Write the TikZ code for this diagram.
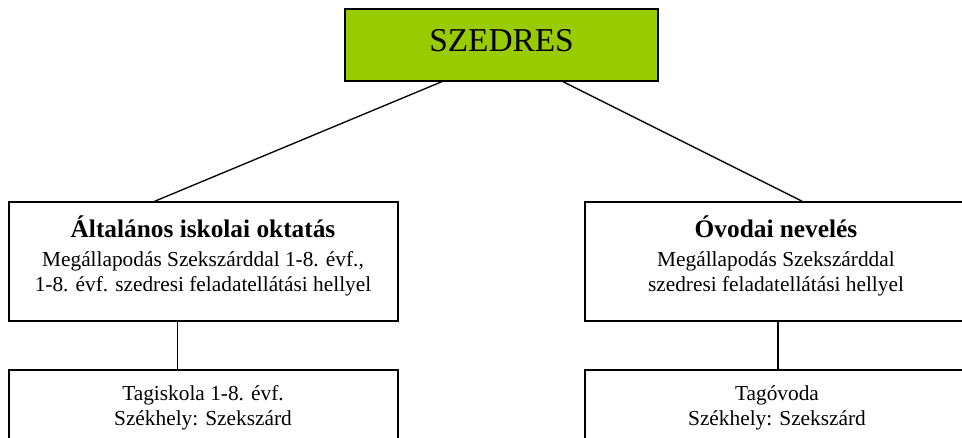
\documentclass[tikz,border=0pt]{standalone}
\usepackage{fontspec}
\setmainfont{Liberation Serif}
\usetikzlibrary{calc}
\definecolor{szedresgreen}{RGB}{153,204,0}
\tikzset{
  box/.style={draw=black, line width=1.1pt, inner sep=0pt},
  conn/.style={draw=black, line width=1pt},
  cim/.style={font=\fontsize{19}{22}\selectfont\bfseries, inner sep=0pt},
  szoveg/.style={font=\fontsize{16}{18.75}\selectfont, align=center, inner sep=0pt}
}
\begin{document}
\begin{tikzpicture}[x=0.75pt,y=0.75pt,yscale=-1,xscale=1]
\useasboundingbox (0,0) rectangle (962,438);
\clip (0,0) rectangle (962,438);

%Shape: Rectangle [szedres]
\node [box, fill=szedresgreen, minimum width=234.75pt, minimum height=54pt, text depth=7.5pt, font=\fontsize{25}{30}\selectfont] (szedres) at (501.5,45) {SZEDRES};
%Shape: Rectangle [iskola]
\node [box, minimum width=291.75pt, minimum height=89.25pt] (iskola) at (203.5,261.5) {};
%Shape: Rectangle [ovoda]
\node [box, minimum width=286.5pt, minimum height=89.25pt] (ovoda) at (776,261.5) {};
%Shape: Rectangle [tagiskola]
\node [box, minimum width=291.75pt, minimum height=75pt] (tagiskola) at (203.5,420) {};
%Shape: Rectangle [tagovoda]
\node [box, minimum width=286.5pt, minimum height=75pt] (tagovoda) at (776,420) {};

%Straight Lines
\draw [conn] ($(szedres.south west)!0.31!(szedres.south east)$) -- ($(iskola.north west)!0.375!(iskola.north east)$) ;
\draw [conn] ($(szedres.south west)!0.696!(szedres.south east)$) -- ($(ovoda.north west)!0.568!(ovoda.north east)$) ;
\draw [conn] ($(iskola.south west)!0.434!(iskola.south east)$) -- ($(tagiskola.north west)!0.434!(tagiskola.north east)$) ;
\draw [conn] ($(ovoda.south west)!0.505!(ovoda.south east)$) -- ($(tagovoda.north west)!0.505!(tagovoda.north east)$) ;

% Text Node
\node [cim, anchor=base] (iskolacim) at (203,238) {Általános iskolai oktatás};
% Text Node
\node [szoveg, anchor=base] (iskolaszoveg) at (203,291) {Megállapodás Szekszárddal 1-8. évf.,\\1-8. évf. szedresi feladatellátási hellyel};
% Text Node
\node [cim, anchor=base] (ovodacim) at (776,238) {Óvodai nevelés};
% Text Node
\node [szoveg, anchor=base] (ovodaszoveg) at (776,291) {Megállapodás Szekszárddal\\szedresi feladatellátási hellyel};
% Text Node
\node [szoveg, anchor=base] (tagiskolaszoveg) at (203,425) {Tagiskola 1-8. évf.\\Székhely: Szekszárd};
% Text Node
\node [szoveg, anchor=base] (tagovodaszoveg) at (777,425) {Tagóvoda\\Székhely: Szekszárd};

\end{tikzpicture}
\end{document}
